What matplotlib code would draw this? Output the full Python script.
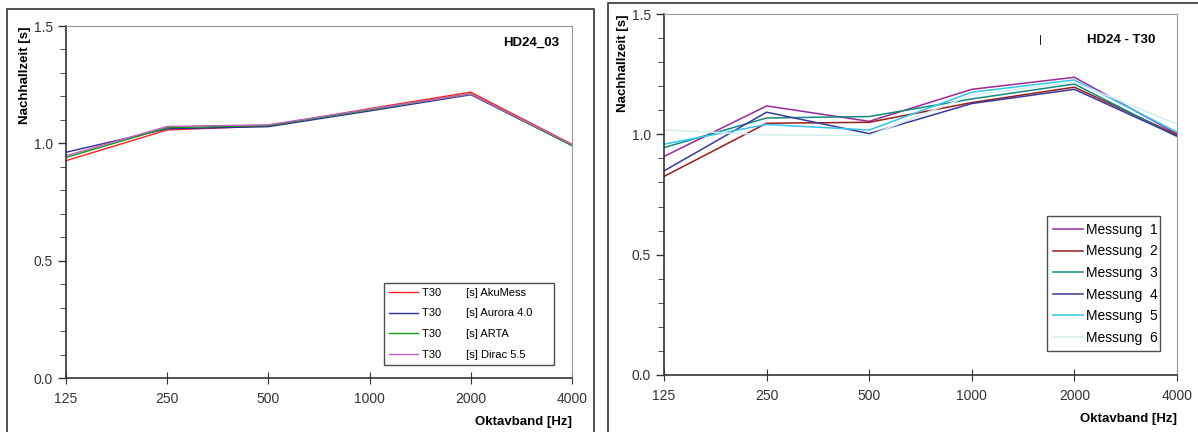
import matplotlib.pyplot as plt
from matplotlib.patches import Rectangle
from matplotlib.ticker import MultipleLocator

plt.rcParams['font.family'] = ['Liberation Sans', 'DejaVu Sans']

# Octave bands
freqs = [125, 250, 500, 1000, 2000, 4000]
freq_labels = ['125', '250', '500', '1000', '2000', '4000']

# Left chart: T30 per software
akumess = [0.926, 1.057, 1.074, 1.148, 1.218, 0.996]
aurora = [0.962, 1.062, 1.071, 1.138, 1.207, 0.991]
arta = [0.940, 1.067, 1.076, 1.143, 1.211, 0.990]
dirac = [0.947, 1.072, 1.079, 1.146, 1.210, 0.995]
left_labels = ['T30        [s] AkuMess', 'T30        [s] Aurora 4.0',
               'T30        [s] ARTA', 'T30        [s] Dirac 5.5']

# Right chart: six measurements
messung_1 = [0.908, 1.118, 1.054, 1.187, 1.237, 1.002]
messung_2 = [0.825, 1.046, 1.050, 1.132, 1.196, 0.998]
messung_3 = [0.945, 1.068, 1.074, 1.147, 1.209, 0.991]
messung_4 = [0.848, 1.092, 1.003, 1.128, 1.187, 0.993]
messung_5 = [0.959, 1.041, 1.018, 1.175, 1.226, 1.009]
messung_6 = [1.018, 0.998, 0.995, 1.164, 1.216, 1.043]
right_labels = ['Messung  1', 'Messung  2', 'Messung  3',
                'Messung  4', 'Messung  5', 'Messung  6']

left_colors = ['#ff2020', '#2e2e9a', '#109a10', '#c060c0']
right_colors = ['#9a2a9a', '#9a1c1c', '#128a80', '#3a3a9a', '#33c4f0', '#d4eeee']


def style_axes(ax):
    ax.set_xscale('log', base=2)
    ax.set_xlim(125, 4000)
    ax.set_ylim(0, 1.5)
    ax.set_xticks(freqs)
    ax.set_xticklabels(freq_labels)
    ax.minorticks_off()
    ax.yaxis.set_major_locator(MultipleLocator(0.5))
    ax.yaxis.set_minor_locator(MultipleLocator(0.1))
    ax.yaxis.set_major_formatter(plt.FuncFormatter(lambda v, p: f'{v:.1f}'))
    ax.tick_params(axis='y', which='major', length=6, direction='out', labelsize=10, colors='#333333', width=1)
    ax.tick_params(axis='y', which='minor', length=4, direction='out', color='#333333')
    ax.tick_params(axis='x', which='major', length=8, direction='inout', labelsize=10, colors='#333333', pad=6)
    for s in ['top', 'right']:
        ax.spines[s].set_color('#999999')
    for s in ['left', 'bottom']:
        ax.spines[s].set_color('#333333')
        ax.spines[s].set_linewidth(1.2)
    ax.set_ylabel('Nachhallzeit [s]', fontweight='bold', fontsize=9.5, loc='top', labelpad=2)
    ax.set_xlabel('Oktavband [Hz]', fontweight='bold', fontsize=9.5, loc='right', labelpad=7)


fig = plt.figure(figsize=(11.98, 4.32), dpi=100)

# Panel frames
fig.patches.append(Rectangle((7 / 1198, -0.01), 587 / 1198, 1 - 9 / 432 + 0.01,
                             transform=fig.transFigure, fill=False, edgecolor='#333333', lw=1.2))
fig.patches.append(Rectangle((608 / 1198, -0.01), 595 / 1198, 1 - 3 / 432 + 0.01,
                             transform=fig.transFigure, fill=False, edgecolor='#333333', lw=1.2))

ax1 = fig.add_axes([66 / 1198, 1 - 378 / 432, 506 / 1198, 352 / 432])
for vals, lab, c in zip([akumess, aurora, arta, dirac], left_labels, left_colors):
    ax1.plot(freqs, vals, color=c, lw=1, label=lab)
style_axes(ax1)
ax1.text(0.975, 0.952, 'HD24_03', transform=ax1.transAxes, ha='right', va='center',
         fontweight='bold', fontsize=9.5)
leg1 = ax1.legend(loc='lower left', bbox_to_anchor=(0.628, 0.037, 0.336, 0.2), mode='expand',
                  borderaxespad=0, fontsize=8, frameon=True, fancybox=False,
                  edgecolor='#222222', handlelength=2.6, labelspacing=0.97,
                  borderpad=0.45, handletextpad=0.35)
leg1.get_frame().set_linewidth(1.0)

ax2 = fig.add_axes([664 / 1198, 1 - 375 / 432, 513 / 1198, 361 / 432])
series = [messung_1, messung_2, messung_3, messung_4, messung_5, messung_6]
for vals, lab, c in zip(series, right_labels, right_colors):
    ax2.plot(freqs, vals, color=c, lw=1.1, label=lab)
style_axes(ax2)
ax2.text(0.957, 0.928, 'HD24 - T30', transform=ax2.transAxes, ha='right', va='center',
         fontweight='bold', fontsize=9.5)
ax2.text(0.733, 0.928, '|', transform=ax2.transAxes, ha='center', va='center', fontsize=8)
leg2 = ax2.legend(loc='lower left', bbox_to_anchor=(0.747, 0.066, 0.22, 0.3), mode='expand',
                  borderaxespad=0, fontsize=10, frameon=True, fancybox=False,
                  edgecolor='#222222', handlelength=2.15, labelspacing=0.55,
                  borderpad=0.45, handletextpad=0.2)
leg2.get_frame().set_linewidth(1.0)

fig.savefig('out.png', dpi=100)
